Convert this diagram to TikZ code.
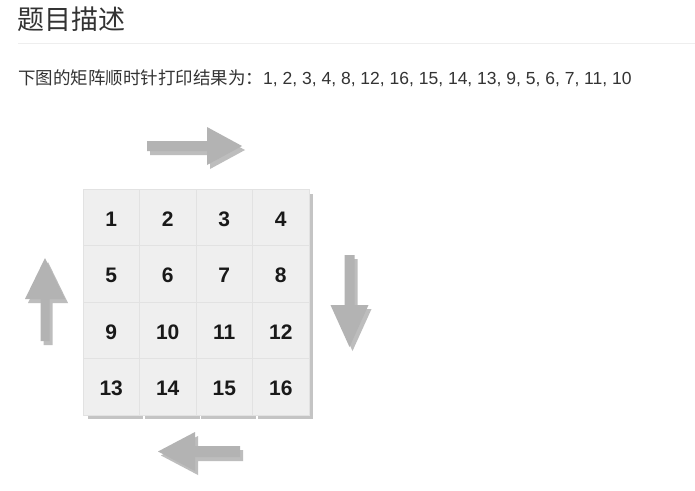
\documentclass[tikz,border=0pt]{standalone}
\usepackage{fontspec}
\setmainfont{Liberation Sans}
\newfontfamily\cjk{Noto Sans CJK SC}
\definecolor{txt}{HTML}{333333}
\definecolor{rulec}{HTML}{EEEEEE}
\definecolor{cellfill}{HTML}{EFEFEF}
\definecolor{cellline}{HTML}{E2E2E2}
\definecolor{cellshadow}{HTML}{C4C4C4}
\definecolor{arrowmain}{HTML}{B3B3B3}
\definecolor{arrowshade}{HTML}{BDBDBD}
\newcommand\fatarrow[7]{% tail x, tail y, angle, length, head length, head half-width, shaft half-width
  \fill[arrowshade, shift={(#1+3,#2+4)}, rotate=#3]
    (0,-#7) -- (#4-#5,-#7) -- (#4-#5,-#6) -- (#4,0) -- (#4-#5,#6) -- (#4-#5,#7) -- (0,#7) -- cycle;
  \fill[arrowmain, shift={(#1,#2)}, rotate=#3]
    (0,-#7) -- (#4-#5,-#7) -- (#4-#5,-#6) -- (#4,0) -- (#4-#5,#6) -- (#4-#5,#7) -- (0,#7) -- cycle;
}
\tikzset{
  cellbox/.style={draw=cellline, fill=cellfill, line width=0.8pt, minimum width=56.5pt, minimum height=56.5pt,
    inner sep=0pt, text height=18pt, text depth=0pt, font=\fontsize{21}{21}\selectfont\bfseries, text=black!90},
  heading/.style={anchor=west, inner sep=0pt, text=txt, font=\cjk\fontsize{27}{30}\selectfont},
  bodytext/.style={anchor=west, inner sep=0pt, text=txt, font=\fontsize{17.5}{20}\selectfont},
}
\begin{document}
\begin{tikzpicture}[x=1pt,y=-1pt]
\fill[white] (0,0) rectangle (695,490);
\useasboundingbox (0,0) rectangle (695,490);

\node[heading] (title) at (17,19) {题目描述};
\draw[rulec, line width=1pt] (18,43.5) -- (695,43.5);
\node[bodytext] (result) at (18,78) {{\cjk 下图的矩阵顺时针打印结果为：}1, 2, 3, 4, 8, 12, 16, 15, 14, 13, 9, 5, 6, 7, 11, 10};

% shadows of the grid
\fill[cellshadow] (309,194) rectangle (313,418.5);
\foreach \i in {0,1,2,3} {
  \fill[cellshadow] ({83+56.5*\i+5},413) rectangle ({83+56.5*(\i+1)+3.5},418.5);
}
\fill[cellshadow] (309,413) rectangle (313,418.5);

% cells
\foreach \r in {0,1,2,3} {
  \foreach \c in {0,1,2,3} {
    \pgfmathtruncatemacro\num{4*\r+\c+1}
    \node[cellbox] (cell\num) at ({83+28.25+56.5*\c},{189+28.25+56.5*\r}) {\num};
  }
}

% direction arrows
\fatarrow{147}{146}{0}{95}{35}{19}{5}
\fatarrow{349.5}{255}{-90}{92}{42}{19}{5}
\fatarrow{240}{451.5}{180}{82}{37}{19.5}{5.5}
\fatarrow{45}{341}{90}{83}{41}{20}{4.5}
\end{tikzpicture}
\end{document}
